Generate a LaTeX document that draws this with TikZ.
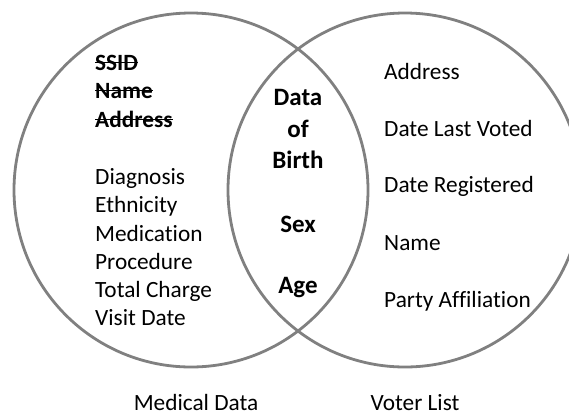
\documentclass[tikz,border=0pt]{standalone}
\usepackage{fontspec}
\setmainfont{Carlito}[Ligatures=NoCommon]
\newcommand\strk[1]{\sbox0{#1}\rlap{\usebox0}\rule[0.3em]{\wd0}{1.3pt}}
\begin{document}
\begin{tikzpicture}[x=1pt,y=-1pt,
  setcircle/.style={circle,draw=ringgray,line width=2.8pt,minimum size=354pt,inner sep=0pt},
  item/.style={anchor=base west,inner sep=0pt,font=\fontsize{23.3}{28}\selectfont},
  shared/.style={anchor=base,inner sep=0pt,font=\fontsize{25}{30}\selectfont\bfseries},
  caption/.style={anchor=base,inner sep=0pt,font=\fontsize{23.3}{28}\selectfont}]
\definecolor{ringgray}{HTML}{808080}
\useasboundingbox (0,0) rectangle (569,418);
\begin{scope}
\clip (0,0) rectangle (569,418);
\node[setcircle] (medical) at (191,190) {};
\node[setcircle] (voter) at (405,190) {};
\end{scope}
% medical data fields
\node[item] (ssid) at (95,70) {\bfseries\strk{SSID}};
\node[item] (mname) at (95,98) {\bfseries\strk{Name}};
\node[item] (maddr) at (95,127) {\bfseries\strk{Address}};
\node[item] (diag) at (95,184) {Diagnosis};
\node[item] (eth) at (95,212) {Ethnicity};
\node[item] (med) at (95,241) {Medication};
\node[item] (proc) at (95,269) {Procedure};
\node[item] (charge) at (95,297) {Total Charge};
\node[item] (visit) at (95,325) {Visit Date};
% shared fields
\node[shared] (dob1) at (298,105) {Data};
\node[shared] (dob2) at (298,137) {of};
\node[shared] (dob3) at (298,168) {Birth};
\node[shared] (sex) at (298,232) {Sex};
\node[shared] (age) at (298,293) {Age};
% voter list fields
\node[item] (vaddr) at (384,79) {Address};
\node[item] (voted) at (384,136) {Date Last Voted};
\node[item] (reg) at (384,192) {Date Registered};
\node[item] (vname) at (384,250) {Name};
\node[item] (party) at (384,307) {Party Affiliation};
% captions
\node[caption] (medcap) at (196,410) {Medical Data};
\node[caption] (votecap) at (415,410) {Voter List};
\end{tikzpicture}
\end{document}
